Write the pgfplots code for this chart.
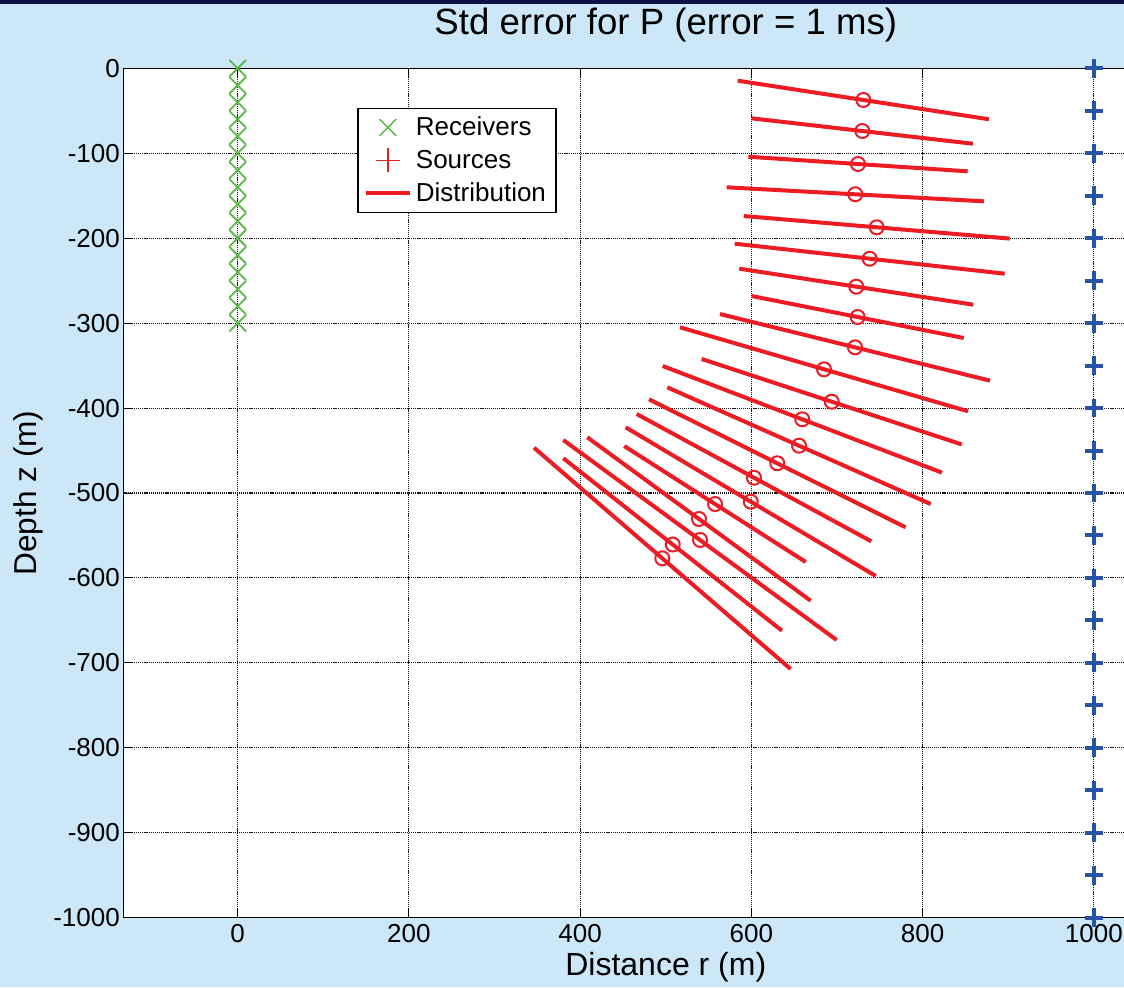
\documentclass[border=0pt]{standalone}
\usepackage{pgfplots}
\pgfplotsset{compat=1.18}
\usepackage{fontspec}
\setmainfont{Liberation Sans}
\definecolor{bgblue}{RGB}{204,232,248}
\definecolor{topband}{RGB}{10,18,70}
\definecolor{recgreen}{RGB}{92,184,72}
\definecolor{srcblue}{RGB}{40,84,168}
\definecolor{distred}{RGB}{237,28,36}
\pgfplotsset{
  recleg/.style={legend image code/.code={\draw[##1] (6.8pt,-4.2pt) -- (15.2pt,4.2pt) (6.8pt,4.2pt) -- (15.2pt,-4.2pt);}},
  srcleg/.style={legend image code/.code={\draw[##1] (5pt,0pt) -- (17pt,0pt) (11pt,-6pt) -- (11pt,6pt);}},
  disleg/.style={legend image code/.code={\draw[##1] (0pt,0pt) -- (22pt,0pt);}},
}
\begin{document}
\begin{tikzpicture}
\path[use as bounding box] (0,0) rectangle (562pt,493.5pt);
\fill[bgblue] (0,0) rectangle (562pt,493.5pt);
\fill[topband] (0,491.6pt) rectangle (562pt,493.5pt);
\begin{scope}
\clip (0,0) rectangle (562pt,491.6pt);
\begin{axis}[
  at={(61.65pt,34.65pt)}, anchor=south west,
  x=0.4281pt, y=0.4247pt,
  xmin=-133.6, xmax=1133.6, ymin=-1000, ymax=0,
  axis background/.style={fill=white},
  axis line style={line width=0.6pt},
  xtick={0,200,400,600,800,1000},
  xticklabels={0,200,400,600,800,1000},
  ytick={-1000,-900,-800,-700,-600,-500,-400,-300,-200,-100,0},
  yticklabels={-1000,-900,-800,-700,-600,-500,-400,-300,-200,-100,0},
  tick style={black, line width=0.5pt},
  major tick length=5pt,
  tick label style={font=\fontsize{13}{15}\selectfont},
  yticklabel style={xshift=1.8pt},
  grid=major,
  major grid style={black!90, dash pattern=on 0.6pt off 0.45pt, line width=0.55pt},
  title={Std error for P (error = 1 ms)},
  title style={at={(axis description cs:0.5,1)}, anchor=base, yshift=10.8pt, font=\fontsize{18.3}{21}\selectfont},
  xlabel={Distance r (m)},
  xlabel style={at={(axis description cs:0.5,-0.0686)}, anchor=base, font=\fontsize{16}{19}\selectfont},
  ylabel={Depth z (m)},
  ylabel style={at={(axis description cs:-0.0799,0.5)}, anchor=base, font=\fontsize{15.8}{19}\selectfont},
  legend style={at={(axis description cs:0.2157,0.9533)}, anchor=north west, draw=black, line width=0.6pt, fill=white,
    font=\fontsize{13}{15}\selectfont, inner xsep=3pt, inner ysep=2pt, row sep=1.75pt,
    nodes={inner sep=2pt}},
  legend cell align=left,
]
% Receivers
\addplot[forget plot, only marks, mark=x, mark size=5.9pt, recgreen, mark options={line width=0.9pt}] coordinates {
(0,0) (0,-20) (0,-40) (0,-60) (0,-80) (0,-100) (0,-120) (0,-140) (0,-160) (0,-180) (0,-200) (0,-220) (0,-240) (0,-260) (0,-280) (0,-300)};
% Distribution lines
\addplot[forget plot, distred, line width=2pt] coordinates {(584.0,-14.6) (877.4,-60.0)};
\addplot[forget plot, distred, line width=2pt] coordinates {(600.3,-58.9) (858.7,-88.8)};
\addplot[forget plot, distred, line width=2pt] coordinates {(596.4,-104.1) (852.6,-121.3)};
\addplot[forget plot, distred, line width=2pt] coordinates {(571.1,-140.1) (871.5,-156.6)};
\addplot[forget plot, distred, line width=2pt] coordinates {(591.0,-173.9) (901.7,-200.5)};
\addplot[forget plot, distred, line width=2pt] coordinates {(580.5,-206.5) (895.8,-241.8)};
\addplot[forget plot, distred, line width=2pt] coordinates {(585.8,-235.9) (859.1,-278.3)};
\addplot[forget plot, distred, line width=2pt] coordinates {(600.3,-268.1) (847.9,-317.5)};
\addplot[forget plot, distred, line width=2pt] coordinates {(563.3,-289.3) (878.7,-367.7)};
\addplot[forget plot, distred, line width=2pt] coordinates {(516.6,-304.9) (853.0,-403.8)};
\addplot[forget plot, distred, line width=2pt] coordinates {(541.9,-342.2) (845.6,-442.8)};
\addplot[forget plot, distred, line width=2pt] coordinates {(496.4,-350.5) (822.5,-476.0)};
\addplot[forget plot, distred, line width=2pt] coordinates {(501.8,-375.6) (809.4,-513.0)};
\addplot[forget plot, distred, line width=2pt] coordinates {(480.4,-389.7) (780.1,-540.4)};
\addplot[forget plot, distred, line width=2pt] coordinates {(466.0,-407.0) (740.0,-556.9)};
\addplot[forget plot, distred, line width=2pt] coordinates {(453.2,-422.7) (745.2,-597.7)};
\addplot[forget plot, distred, line width=2pt] coordinates {(451.5,-444.7) (663.4,-581.2)};
\addplot[forget plot, distred, line width=2pt] coordinates {(408.3,-434.4) (669.2,-626.8)};
\addplot[forget plot, distred, line width=2pt] coordinates {(380.3,-437.6) (699.6,-673.1)};
\addplot[forget plot, distred, line width=2pt] coordinates {(380.3,-459.1) (635.7,-662.1)};
\addplot[forget plot, distred, line width=2pt] coordinates {(346.1,-446.7) (645.8,-707.2)};
% Centres
\addplot[forget plot, only marks, mark=o, mark size=3.5pt, distred, mark options={line width=1pt}] coordinates {
(730.7,-37.3) (729.5,-73.8) (724.5,-112.7) (721.3,-148.3) (746.3,-187.2) (738.1,-224.2) (722.5,-257.1)
(724.1,-292.8) (721.0,-328.5) (684.8,-354.4) (693.8,-392.5) (659.4,-413.2) (655.6,-444.3) (630.2,-465.0)
(603.0,-482.0) (599.2,-510.2) (557.5,-513.0) (538.8,-530.6) (540.0,-555.3) (508.1,-560.6) (495.9,-576.9)};
% Sources
\addplot[forget plot, only marks, mark=+, mark size=4.7pt, srcblue, mark options={line width=2pt}] coordinates {
(1000,0) (1000,-50) (1000,-100) (1000,-150) (1000,-200) (1000,-250) (1000,-300) (1000,-350) (1000,-400)
(1000,-450) (1000,-500) (1000,-550) (1000,-600) (1000,-650) (1000,-700) (1000,-750) (1000,-800)
(1000,-850) (1000,-900) (1000,-950) (1000,-1000)};
% Legend
\addlegendimage{recleg, recgreen, line width=0.7pt}
\addlegendentry{Receivers}
\addlegendimage{srcleg, distred, line width=0.7pt}
\addlegendentry{Sources}
\addlegendimage{disleg, distred, line width=2pt}
\addlegendentry{Distribution}
\end{axis}
\end{scope}
\end{tikzpicture}
\end{document}
